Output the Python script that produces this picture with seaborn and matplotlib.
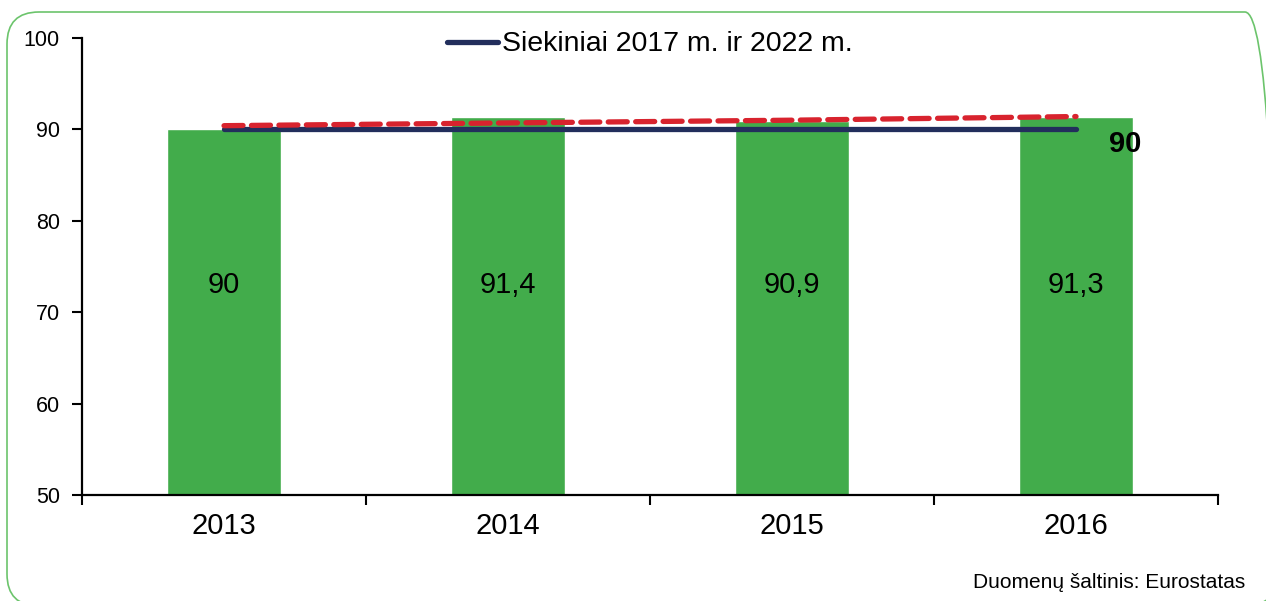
import numpy as np
import pandas as pd
import matplotlib.pyplot as plt
import seaborn as sns
from matplotlib.patches import FancyBboxPatch
from matplotlib.transforms import IdentityTransform

# data
years = ["2013", "2014", "2015", "2016"]
values = [90, 91.4, 90.9, 91.3]
value_labels = ["90", "91,4", "90,9", "91,3"]
target = [90, 90, 90, 90]
trend = [90.4, 90.7, 91.0, 91.4]
target_label = "Siekiniai 2017 m. ir 2022 m."
source_note = "Duomenų šaltinis: Eurostatas"

GREEN = "#42ac4b"
NAVY = "#222e5c"
RED = "#d8232e"

sns.set_style("white")
plt.rcParams['font.family'] = ['Liberation Sans', 'DejaVu Sans']
plt.rcParams['text.color'] = 'black'
plt.rcParams['xtick.color'] = 'black'
plt.rcParams['ytick.color'] = 'black'

df = pd.DataFrame({"year": years, "value": values})

fig = plt.figure(figsize=(12.66, 6.01), dpi=100)
ax = fig.add_axes([0.0648, 0.176, 0.8973, 0.761])

sns.barplot(data=df, x="year", y="value", color=GREEN, width=0.4,
            saturation=1, ax=ax, zorder=2)

pos = np.arange(len(years))
ax.plot(pos, target, color=NAVY, lw=3.8, solid_capstyle="round",
        label=target_label, zorder=3)
ax.plot(pos, trend, color=RED, lw=3.8, dashes=(3.6, 1.6),
        dash_capstyle="round", zorder=4)

# value labels inside the bars
for i, lab in enumerate(value_labels):
    ax.text(pos[i], 73.0, lab, ha="center", va="center", fontsize=21)

ax.text(pos[-1] + 0.115, target[-1] - 1.6, str(target[-1]), ha="left",
        va="center", fontsize=21, fontweight="bold",
        family=['Liberation Sans Narrow', 'Liberation Sans', 'DejaVu Sans'])

ax.set_ylim(50, 100)
ax.set_xlim(-0.5, 3.5)
ax.set_yticks([50, 60, 70, 80, 90, 100])
ax.tick_params(axis="y", labelsize=15.5, length=7, width=1.5, direction="out",
               left=True, pad=9)
ax.tick_params(axis="x", which="major", labelsize=21, length=0, pad=12)
ax.set_xticks(np.arange(-0.5, 3.6, 1.0), minor=True)
ax.tick_params(axis="x", which="minor", length=7, width=1.5, bottom=True,
               direction="out")
ax.set_xlabel("")
ax.set_ylabel("")
for side in ["top", "right"]:
    ax.spines[side].set_visible(False)
for side in ["left", "bottom"]:
    ax.spines[side].set_linewidth(1.6)
    ax.spines[side].set_color("black")

ax.legend(loc="upper center", bbox_to_anchor=(0.5, 1.07), frameon=False,
          fontsize=20.5, handlelength=1.8, handletextpad=0.15)

fig.text(0.984, 0.015, source_note, ha="right", va="bottom", fontsize=15)

# rounded green frame around the chart (pixel coordinates)
frame = FancyBboxPatch((7, -5), 1270, 594,
                       boxstyle="round,pad=0,rounding_size=32",
                       transform=IdentityTransform(), fill=False,
                       edgecolor="#6cc46c", lw=1.2)
fig.patches.append(frame)

fig.savefig("out.png", dpi=100)
